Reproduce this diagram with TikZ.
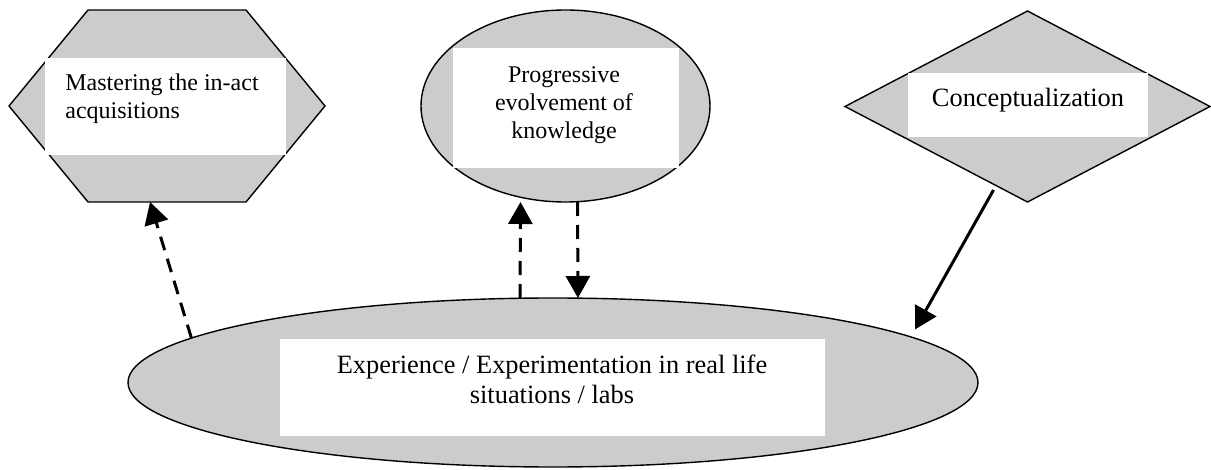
\documentclass[tikz,border=0pt]{standalone}
\usepackage{fontspec}
\setmainfont{Liberation Serif}
\usetikzlibrary{arrows.meta, positioning, calc, shapes.geometric}
\definecolor{shapegray}{HTML}{CCCCCC}

\begin{document}
\begin{tikzpicture}[
    x=0.5pt, y=-0.5pt,
    shapebox/.style={draw=black, line width=0.7pt, fill=shapegray,
                     inner sep=0pt, outer sep=0pt},
    whitebox/.style={fill=white, inner sep=0pt, outer sep=0pt},
    lbl/.style={font=\fontsize{12}{13.8}\selectfont, inner sep=0pt, align=center},
    biglbl/.style={font=\fontsize{13.2}{14.5}\selectfont, inner sep=0pt, align=center},
    dasharr/.style={-{Triangle[length=11pt, width=12pt]}, line width=1.5pt,
                    dash pattern=on 7pt off 4.5pt},
    solidarr/.style={-{Triangle[length=11pt, width=12pt]}, line width=1.5pt}
  ]
    \useasboundingbox (0,0) rectangle (1211,470);

    % the four shapes
    \node[inner sep=0pt, outer sep=0pt, minimum width=158pt, minimum height=96pt]
      (mast) at (167,106) {};
    \draw[shapebox] (mast.west) -- ($(mast.north west)+(79,0)$)
      -- ($(mast.north east)+(-79,0)$) -- (mast.east)
      -- ($(mast.south east)+(-79,0)$) -- ($(mast.south west)+(79,0)$) -- cycle;
    \node[shapebox, ellipse, minimum width=144.5pt, minimum height=96pt]
      (prog) at (565.5,106) {};
    \node[shapebox, diamond, minimum width=182.5pt, minimum height=95.5pt]
      (concept) at (1027.5,106.5) {};
    \node[shapebox, ellipse, minimum width=425pt, minimum height=84.5pt]
      (expr) at (553,382.5) {};

    % white text boxes
    \node[whitebox, minimum width=120.5pt, minimum height=48.5pt] (mastbox) at (165.5,106.5) {};
    \node[whitebox, minimum width=113pt, minimum height=60pt] (progbox) at (566,108) {};
    \node[whitebox, minimum width=120pt, minimum height=32pt] (conbox) at (1028,105) {};
    \node[whitebox, minimum width=272.5pt, minimum height=48.5pt] (exbox) at (552.5,387.5) {};

    \node[lbl, align=left, anchor=base west] (masttxt) at (65,118.6)
      {Mastering the in-act\\acquisitions};
    \node[lbl, anchor=base] (progtxt) at (564,138.2)
      {Progressive\\evolvement of\\knowledge};
    \node[biglbl, anchor=base] (contxt) at (1028,106.5) {Conceptualization};
    \node[biglbl, anchor=base] (extxt) at (552,403)
      {Experience / Experimentation in real life\\situations / labs};

    % connectors
    \draw[dasharr] (expr.173) -- ($(mast.south)+(-17,0)$);
    \draw[dasharr] ($(expr.north)+(-33,0)$) -- ($(prog.south)+(-45,0)$);
    \draw[dasharr] ($(prog.south)+(12,0)$) -- ($(expr.north)+(25,0)$);
    \draw[solidarr] ($(concept.south)+(-34,-12)$) -- ($(expr.center)+(362,-53)$);
  \end{tikzpicture}
\end{document}
